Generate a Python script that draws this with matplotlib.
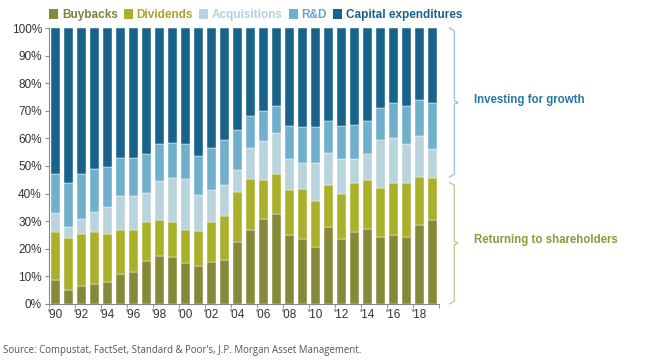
import numpy as np
import matplotlib.pyplot as plt
from matplotlib.patches import Patch
from matplotlib.lines import Line2D

# share of total spending (%) by use of cash, 1990-2019
years = list(range(1990, 2020))
buybacks = [8.5, 5.2, 6.3, 7.2, 7.8, 11.0, 11.7, 15.6, 17.4, 17.1,
            14.7, 13.6, 15.0, 15.8, 22.3, 26.7, 30.6, 32.5, 25.1, 23.4,
            20.5, 28.0, 23.4, 26.1, 27.3, 24.2, 25.1, 24.2, 28.5, 30.3]
dividends = [17.5, 18.8, 19.1, 19.0, 17.6, 15.7, 14.9, 13.9, 13.0, 12.6,
             12.2, 12.7, 14.6, 16.1, 18.3, 18.5, 14.4, 14.7, 16.1, 18.4,
             16.8, 15.0, 16.6, 17.9, 17.5, 17.8, 18.9, 19.8, 17.5, 15.2]
acquisitions = [7.0, 3.8, 5.4, 7.0, 9.7, 12.3, 12.6, 10.8, 14.0, 15.8,
                18.5, 13.1, 11.6, 11.2, 8.0, 11.3, 14.2, 14.6, 11.3, 9.3,
                13.7, 11.8, 12.7, 8.4, 9.4, 17.3, 16.3, 13.9, 14.7, 10.7]
rnd = [14.2, 16.0, 16.3, 15.8, 14.5, 13.9, 13.6, 14.0, 13.7, 12.8,
       12.7, 14.3, 15.4, 16.4, 14.6, 11.7, 10.8, 9.9, 12.1, 13.0,
       13.1, 11.5, 11.7, 12.5, 12.2, 11.7, 12.5, 13.8, 13.1, 16.8]
capex = [52.8, 56.2, 52.9, 51.0, 50.4, 47.1, 47.2, 45.7, 41.9, 41.7,
         41.9, 46.3, 43.4, 40.5, 36.8, 31.8, 30.0, 28.3, 35.4, 35.9,
         35.9, 33.7, 35.6, 35.1, 33.6, 29.0, 27.2, 28.3, 26.2, 27.0]

series = ["Buybacks", "Dividends", "Acquisitions", "R&D", "Capital expenditures"]
colors = ["#868a38", "#abb02b", "#b9d4dc", "#70b0cc", "#18638c"]
text_colors = ["#7d8235", "#a3a826", "#b4d0da", "#5fa5c6", "#18638c"]

plt.rcParams['font.family'] = ['Liberation Sans', 'DejaVu Sans']

fig = plt.figure(figsize=(6.5, 3.6), dpi=100)
ax = fig.add_axes([0.075, 0.156, 0.600, 0.766])

x = np.arange(len(years))
bottom = np.zeros(len(years))
for vals, c in zip([buybacks, dividends, acquisitions, rnd, capex], colors):
    v = np.array(vals)
    ax.bar(x, v, bottom=bottom, width=0.66, color=c, edgecolor="white", linewidth=0.3)
    bottom += v

ax.set_xlim(-0.5, 29.45)
ax.set_ylim(0, 100)
ax.set_yticks(range(0, 101, 10))
ax.set_yticklabels([f"{t}%" for t in range(0, 101, 10)], fontsize=8.5, color="#333333")
ax.set_xticks(x[::2])
ax.set_xticklabels([f"'{str(y)[2:]}" for y in years[::2]], fontsize=8.5, color="#333333")
ax.set_xticks(np.arange(-0.5, 30, 2), minor=True)
ax.tick_params(axis="x", which="major", length=0, pad=4)
ax.tick_params(axis="x", which="minor", length=3, color="#888888")
ax.tick_params(axis="y", length=3, color="#888888", pad=2)
for s in ["top", "right"]:
    ax.spines[s].set_visible(False)
for s in ["left", "bottom"]:
    ax.spines[s].set_color("#888888")
    ax.spines[s].set_linewidth(0.8)

# legend
handles = [Patch(facecolor=c) for c in colors]
leg = fig.legend(handles, series, ncol=5, frameon=False, loc="center left",
                 bbox_to_anchor=(0.068, 0.958), handlelength=0.75, handleheight=0.95,
                 handletextpad=0.35, columnspacing=0.5, borderaxespad=0,
                 prop=dict(weight="bold", size=8.5))
for t, c in zip(leg.get_texts(), text_colors):
    t.set_color(c)


# brackets to the right of the plot
def bracket(y0, y1, color, label, tcolor):
    tr = ax.get_yaxis_transform()
    xb = 1.04
    w = 0.012
    ym = (y0 + y1) / 2
    ax.add_line(Line2D([xb - w, xb, xb, xb + w * 0.8, xb, xb, xb - w],
                       [y1, y1 - 1, ym + 0.6, ym, ym - 0.6, y0 + 1, y0],
                       transform=tr, color=color, lw=1.0, clip_on=False))
    ax.text(xb + 0.05, ym + 1, label, transform=tr, color=tcolor, fontsize=8.3,
            fontweight="bold", va="center", ha="left")


bracket(46, 100, "#9cc4db", "Investing for growth", "#2a77a3")
bracket(0, 44, "#c5c99a", "Returning to shareholders", "#8c9a3c")

fig.text(0.005, 0.02, "Source: Compustat, FactSet, Standard & Poor's, J.P. Morgan Asset Management.",
         fontsize=6.9, color="#555555", family=["Open Sans", "DejaVu Sans"])

fig.savefig("out.png", dpi=100)
